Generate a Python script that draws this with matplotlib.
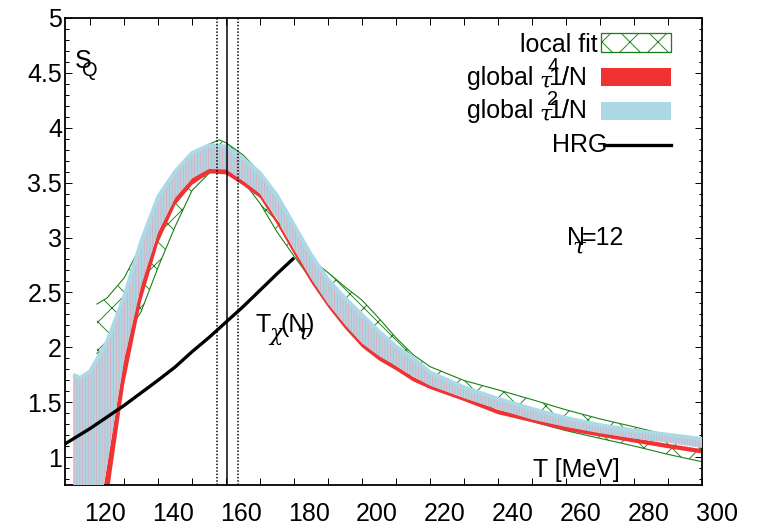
import matplotlib
matplotlib.use('Agg')
import matplotlib.pyplot as plt
import matplotlib.ticker as mticker
import matplotlib.transforms as mtransforms
from matplotlib.patches import Rectangle
from matplotlib.lines import Line2D
import numpy as np

W, H, DPI = 762, 523, 84


def pt(px):
    # pixel size -> points at the figure dpi
    return px * 72 / DPI


plt.rcParams['font.family'] = ['Liberation Sans', 'DejaVu Sans']
plt.rcParams['hatch.linewidth'] = pt(0.9)

# ---- data ----
# global fits (T in MeV)
T_global = [115, 117, 120, 125, 130, 135, 140, 145, 150, 155, 160, 165, 170, 175, 180,
            185, 190, 195, 200, 205, 210, 215, 220, 230, 240, 250, 260, 270, 280, 290, 300]
# 1/N_tau^4 fit: centre and half width
g4_mid = [-1.2, -0.8, -0.2, 0.75, 1.78, 2.50, 3.00, 3.33, 3.51, 3.61, 3.60, 3.50, 3.38, 3.14, 2.87,
          2.61, 2.385, 2.19, 2.02, 1.90, 1.81, 1.71, 1.64, 1.53, 1.41, 1.337, 1.26, 1.206, 1.152, 1.10, 1.052]
g4_err = [0.2, 0.2, 0.18, 0.17, 0.12, 0.08, 0.05, 0.035, 0.03, 0.025, 0.025, 0.025, 0.02, 0.02, 0.02,
          0.02, 0.02, 0.02, 0.02, 0.02, 0.02, 0.02, 0.02, 0.02, 0.02, 0.02, 0.02, 0.02, 0.02, 0.02, 0.02]
# 1/N_tau^2 fit: lower / upper
g2_lo = [-1.0, -0.6, -0.02, 0.93, 1.88, 2.56, 3.05, 3.36, 3.54, 3.625, 3.62, 3.515, 3.40, 3.17, 2.895,
         2.625, 2.394, 2.203, 2.034, 1.92, 1.83, 1.733, 1.65, 1.536, 1.434, 1.341, 1.274, 1.217, 1.168, 1.131, 1.082]
g2_hi = [1.75, 1.72, 1.78, 2.05, 2.46, 2.96, 3.37, 3.60, 3.77, 3.84, 3.83, 3.72, 3.585, 3.38, 3.11,
         2.84, 2.616, 2.446, 2.294, 2.142, 2.005, 1.902, 1.77, 1.634, 1.53, 1.438, 1.355, 1.29, 1.241, 1.203, 1.164]

# local fit band
T_local = [122, 125, 130, 135, 140, 145, 150, 155, 158, 160, 165, 170, 175, 180, 185,
           190, 195, 200, 205, 210, 215, 220, 230, 240, 250, 260, 270, 280, 290, 300]
local_lo = [1.945, 2.00, 2.08, 2.325, 2.73, 3.10, 3.43, 3.585, 3.625, 3.614, 3.513, 3.31, 3.05, 2.83, 2.62,
            2.40, 2.21, 2.04, 1.92, 1.82, 1.72, 1.64, 1.52, 1.41, 1.324, 1.24, 1.17, 1.10, 1.024, 0.957]
local_hi = [2.394, 2.45, 2.632, 2.93, 3.30, 3.57, 3.76, 3.85, 3.89, 3.863, 3.752, 3.59, 3.36, 3.08, 2.80,
            2.68, 2.549, 2.429, 2.262, 2.086, 1.933, 1.823, 1.697, 1.612, 1.523, 1.43, 1.347, 1.275, 1.20, 1.161]

# hadron resonance gas
T_hrg = [110, 115, 120, 125, 130, 135, 140, 145, 150, 155, 160, 165, 170, 175, 180]
S_hrg = [1.07, 1.165, 1.26, 1.365, 1.47, 1.585, 1.70, 1.82, 1.96, 2.09, 2.23, 2.37, 2.52, 2.67, 2.815]

# chiral crossover temperature and its error
tc = 160.4
tc_err = 3.0

green = '#1a7f1a'
red = '#f03232'
lightblue = '#add8e6'
pink = '#dfaabb'

fig = plt.figure(figsize=(W / DPI, H / DPI), dpi=DPI)
ax = fig.add_axes([65 / W, 1 - 485 / H, 637 / W, 467 / H])

# local fit (crosshatched)
ax.fill_between(T_local, local_lo, local_hi, facecolor='none', edgecolor=green,
                hatch='x', linewidth=0, zorder=1)
ax.plot(T_local, local_lo, color=green, lw=pt(1.1), zorder=1.1)
ax.plot(T_local, local_hi, color=green, lw=pt(1.1), zorder=1.1)

# global 1/N^4
lo4 = np.array(g4_mid) - np.array(g4_err)
hi4 = np.array(g4_mid) + np.array(g4_err)
ax.fill_between(T_global, lo4, hi4, color=red, linewidth=0, zorder=2)

# global 1/N^2
ax.fill_between(T_global, g2_lo, g2_hi, facecolor=lightblue, edgecolor=pink,
                hatch='|' * 5, linewidth=0, zorder=3)
ax.plot(T_global, g2_hi, color=lightblue, lw=pt(4), zorder=3.1, solid_capstyle='butt')

# HRG
ax.plot(T_hrg, S_hrg, color='black', lw=pt(3.3), zorder=4, solid_capstyle='butt')

# T_chi lines
ax.axvline(tc, color='black', lw=pt(1.5), zorder=5)
ax.axvline(tc - tc_err, color='black', lw=pt(1.5), ls=(0, (1, 1.2)), zorder=5)
ax.axvline(tc + tc_err, color='black', lw=pt(1.5), ls=(0, (1, 1.2)), zorder=5)

ax.set_xlim(112.6, 300)
ax.set_ylim(0.745, 5)
ax.set_xticks(np.arange(120, 301, 20))
ax.set_xticks(np.arange(130, 300, 20), minor=True)
ax.set_yticks(np.arange(1, 5.01, 0.5))
ax.set_yticks(np.arange(0.8, 5.0, 0.1), minor=True)
ax.yaxis.set_major_formatter(mticker.FormatStrFormatter('%g'))
ax.tick_params(which='both', direction='in', top=True, right=True, width=pt(1),
               labelsize=pt(25), colors='black')
ax.tick_params(which='major', length=pt(7))
ax.tick_params(axis='x', which='minor', length=pt(7))
ax.tick_params(axis='y', which='minor', length=pt(3.5))
ax.tick_params(axis='x', pad=pt(17))
ax.tick_params(axis='y', pad=pt(3))
for s in ax.spines.values():
    s.set_linewidth(pt(1.8))

# gnuplot put the x labels a bit right of their ticks
shift = mtransforms.ScaledTranslation(15 / DPI, 0, fig.dpi_scale_trans)
for tick in ax.xaxis.get_major_ticks():
    tick.label1.set_transform(tick.label1.get_transform() + shift)


def ftext(px, py, s, size=25, **kw):
    fig.text(px / W, 1 - py / H, s, fontsize=pt(size), va='baseline', **kw)


serif = ['DejaVu Serif']

# S_Q
ftext(75, 68, 'S')
ftext(82, 76, 'Q', size=20)
# axis label inside the frame
ftext(533, 477, 'T [MeV]')
# N_tau = 12
ftext(567, 245, 'N')
ftext(572, 254, 'τ', size=23, family=serif, style='italic')
ftext(582, 245, '=12')
# T_chi(N_tau)
ftext(255, 332, 'T')
ftext(269, 340, 'χ', size=22, family=serif, style='italic')
ftext(281, 332, '(N')
ftext(296, 340, 'τ', size=23, family=serif, style='italic')
ftext(306, 332, ')')

# legend, drawn the gnuplot way
ftext(598, 51.7, 'local fit', ha='right')
for base, power in [(85, '4'), (118.3, '2')]:
    ftext(467, base, 'global')
    ftext(540, base + 3, 'τ', size=22, family=serif, style='italic')
    ftext(547, base - 13, power, size=20)
    ftext(548, base, '1/N')
    ftext(562, base, '/')
ftext(552, 151.7, 'HRG')

fig.add_artist(Rectangle((600.7 / W, 1 - 51.7 / H), 70 / W, 18.4 / H, transform=fig.transFigure,
                         facecolor='none', edgecolor=green, hatch='x', lw=pt(1.3)))
fig.add_artist(Rectangle((600.7 / W, 1 - 85.7 / H), 70 / W, 17.4 / H, transform=fig.transFigure,
                         facecolor=red, lw=0))
fig.add_artist(Rectangle((600.7 / W, 1 - 120 / H), 70 / W, 18.3 / H, transform=fig.transFigure,
                         facecolor=lightblue, lw=0))
fig.add_artist(Line2D([604 / W, 671 / W], [1 - 145 / H, 1 - 145 / H], transform=fig.transFigure,
                      color='black', lw=pt(3.3)))

fig.savefig('out.png', dpi=DPI)
